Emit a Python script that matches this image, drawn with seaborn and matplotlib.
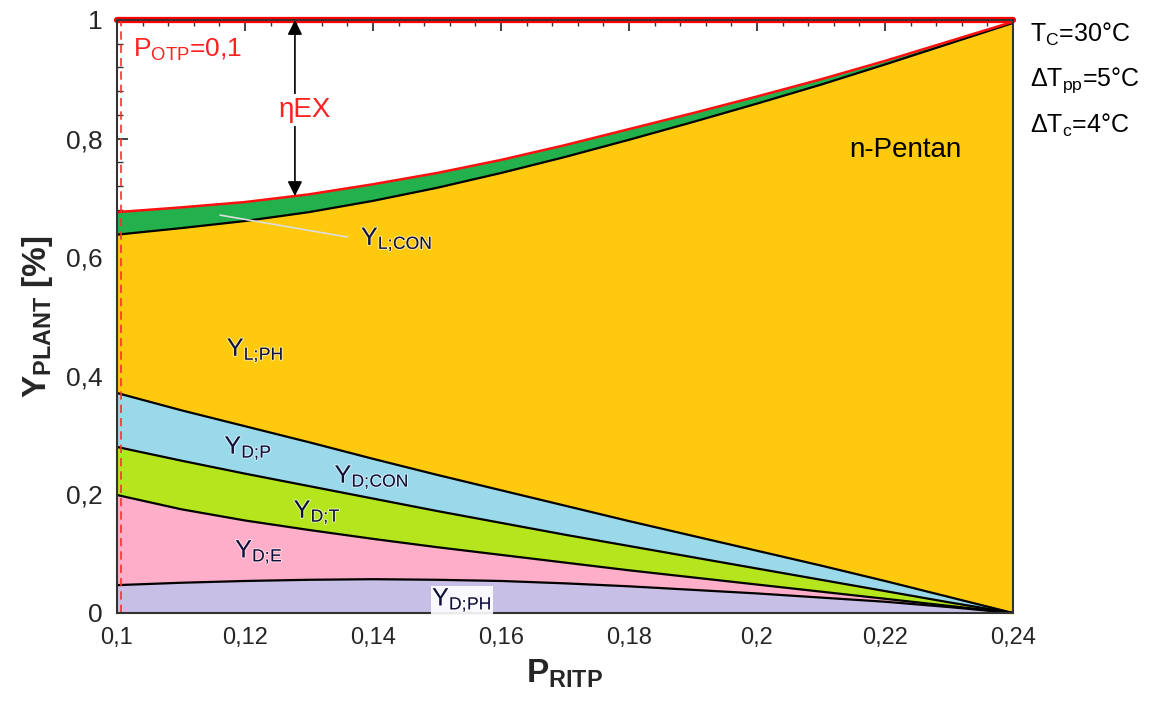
import numpy as np
import matplotlib
matplotlib.use("Agg")
import matplotlib.pyplot as plt
import matplotlib.ticker as mticker
import matplotlib.patheffects as pe
import seaborn as sns

# ---- data (upper boundaries of each stacked band) ----
p_ritp = [0.10, 0.11, 0.12, 0.13, 0.14, 0.15, 0.16, 0.17, 0.18, 0.19, 0.20, 0.21, 0.22, 0.23, 0.24]
top_d_ph = [0.047, 0.051, 0.054, 0.056, 0.057, 0.056, 0.054, 0.050, 0.045, 0.039, 0.033, 0.026, 0.019, 0.010, 0.0]
top_d_e = [0.199, 0.175, 0.156, 0.140, 0.125, 0.111, 0.098, 0.085, 0.072, 0.060, 0.048, 0.036, 0.024, 0.012, 0.0]
top_d_t = [0.280, 0.257, 0.235, 0.214, 0.193, 0.172, 0.152, 0.132, 0.113, 0.094, 0.075, 0.056, 0.037, 0.018, 0.0]
top_d_p = [0.371, 0.342, 0.315, 0.288, 0.260, 0.233, 0.207, 0.181, 0.155, 0.130, 0.105, 0.080, 0.054, 0.027, 0.0]
top_l_ph = [0.638, 0.649, 0.661, 0.676, 0.695, 0.717, 0.742, 0.769, 0.798, 0.828, 0.859, 0.891, 0.925, 0.960, 0.995]
top_l_con = [0.676, 0.684, 0.693, 0.706, 0.723, 0.742, 0.764, 0.789, 0.816, 0.843, 0.871, 0.900, 0.931, 0.964, 0.997]
p_otp = 0.1
y_total = 1.0
arrow_x = 0.1278

band_colors = ["#C8BFE7", "#FFAEC9", "#B5E61D", "#99D9EA", "#FFC90E", "#22B14C"]

sns.set_theme(style="ticks")
plt.rcParams["font.family"] = ["Liberation Sans", "DejaVu Sans"]
plt.rcParams["mathtext.fontset"] = "custom"
plt.rcParams["mathtext.rm"] = "Liberation Sans"
plt.rcParams["mathtext.it"] = "Liberation Sans:italic"
plt.rcParams["mathtext.bf"] = "Liberation Sans:bold"

fig = plt.figure(figsize=(11.55, 7.13), dpi=100)
ax = fig.add_axes([117 / 1155, 100 / 713, 896 / 1155, 593 / 713])

x = np.array(p_ritp)
bounds = [np.zeros_like(x), np.array(top_d_ph), np.array(top_d_e), np.array(top_d_t),
          np.array(top_d_p), np.array(top_l_ph), np.array(top_l_con)]
for i, c in enumerate(band_colors):
    ax.fill_between(x, bounds[i], bounds[i + 1], color=c, lw=0, zorder=1)

for b in bounds[1:6]:
    sns.lineplot(x=x, y=b, ax=ax, color="black", lw=1.6, zorder=3)
sns.lineplot(x=x, y=bounds[6], ax=ax, color="#FF1010", lw=1.8, zorder=4)

ax.axhline(y_total, color="#FF0000", lw=4.5, zorder=5, clip_on=False)
ax.axvline(p_otp + 0.0006, color="#FF3030", lw=1.2, ls=(0, (5, 3)), zorder=5)

ax.set_xlim(0.1, 0.24)
ax.set_ylim(0, 1)

fmt = mticker.FuncFormatter(lambda v, pos: f"{v:.2f}".rstrip("0").rstrip(".").replace(".", ","))
ax.xaxis.set_major_locator(mticker.MultipleLocator(0.02))
ax.xaxis.set_minor_locator(mticker.MultipleLocator(0.004))
ax.yaxis.set_major_locator(mticker.MultipleLocator(0.2))
ax.yaxis.set_minor_locator(mticker.MultipleLocator(0.04))
ax.xaxis.set_major_formatter(fmt)
ax.yaxis.set_major_formatter(fmt)
ax.tick_params(which="both", direction="in", top=True, right=True, color="#333333")
ax.tick_params(which="major", length=8, width=1.3)
ax.tick_params(which="minor", length=4, width=1.0)
ax.tick_params(axis="y", labelsize=19, pad=10)
ax.tick_params(axis="x", labelsize=17, pad=10)
for s in ax.spines.values():
    s.set_color("#333333")
    s.set_linewidth(1.5)
    s.set_zorder(6)

ax.set_xlabel(r"P$_{\mathbf{RITP}}$", fontsize=24, fontweight="bold", labelpad=6)
ax.set_ylabel(r"Y$_{\mathbf{PLANT}}$ [%]", fontsize=24, fontweight="bold", labelpad=8)

# arrow eta_EX
y_arrow_end = np.interp(arrow_x, x, bounds[6])
ax.annotate("", xy=(arrow_x, y_total), xytext=(arrow_x, y_arrow_end),
            arrowprops=dict(arrowstyle="<|-|>", color="black", lw=1.2,
                            mutation_scale=22, shrinkA=0, shrinkB=0), zorder=6)
ax.text(arrow_x + 0.0015, 0.848, "ηEX", color="#FF2020", fontsize=20,
        ha="center", va="center", zorder=7,
        bbox=dict(facecolor="white", edgecolor="none", pad=2))
ax.text(0.1025, 0.949, r"P$_{\mathrm{OTP}}$=0,1", color="#FF2020", fontsize=19,
        ha="left", va="center", zorder=7)

navy = "#10103A"
halo = [pe.withStroke(linewidth=1.5, foreground=(1, 1, 1, 0.6))]
ax.annotate("", xy=(0.1161, 0.671), xytext=(0.1360, 0.634),
            arrowprops=dict(arrowstyle="-", color="#DDDDDD", lw=1.2, shrinkA=0, shrinkB=0), zorder=5)
labels = [
    (r"Y$_{\mathrm{L;\!CON}}$", 0.1437, 0.630, None),
    (r"Y$_{\mathrm{L;\!PH}}$", 0.1216, 0.443, None),
    (r"Y$_{\mathrm{D;\!P}}$", 0.1205, 0.278, None),
    (r"Y$_{\mathrm{D;\!CON}}$", 0.1398, 0.229, None),
    (r"Y$_{\mathrm{D;\!T}}$", 0.1313, 0.170, None),
    (r"Y$_{\mathrm{D;\!E}}$", 0.1222, 0.103, None),
    (r"Y$_{\mathrm{D;\!PH}}$", 0.1539, 0.022, "white"),
]
for txt, lx, ly, bg in labels:
    t = ax.text(lx, ly, txt, color=navy, fontsize=18, ha="center", va="center", zorder=7,
                path_effects=halo)
    if bg:
        t.set_bbox(dict(facecolor=bg, edgecolor="none", pad=0.5, alpha=0.9))

ax.text(0.2231, 0.781, "n-Pentan", color="black", fontsize=20, ha="center", va="center", zorder=7)

side = [r"T$_{\mathrm{C}}$=30°C", r"$\Delta$T$_{\mathrm{pp}}$=5°C", r"$\Delta$T$_{\mathrm{c}}$=4°C"]
for i, s in enumerate(side):
    ax.text(1.019, 0.975 - i * 0.076, s, transform=ax.transAxes, fontsize=18,
            ha="left", va="center", color="black")

fig.savefig("out.png", dpi=100)
